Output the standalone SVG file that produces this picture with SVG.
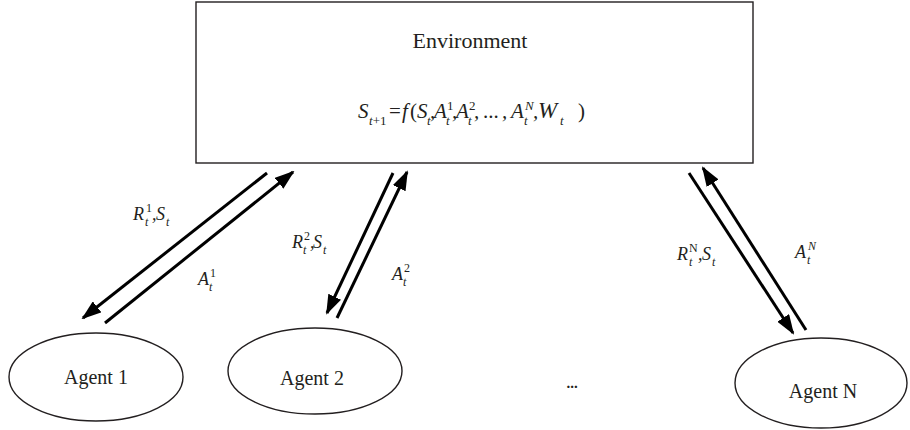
<svg xmlns="http://www.w3.org/2000/svg" width="910" height="430" viewBox="0 0 910 430">
<style>
.box{fill:#fff;stroke:#231f20;stroke-width:1.4}
.lbl{font-family:"Liberation Serif","Times New Roman",serif;fill:#231f20}
.node{font-size:20px}
.it{font-style:italic}
.up{font-style:normal}
.m{font-size:21px}
.s{font-size:13px}
.e{font-size:18px}
.es{font-size:12px}
.arr{stroke:#000;stroke-width:3;fill:none;marker-end:url(#ah)}
</style>
<defs>
<marker id="ah" markerUnits="userSpaceOnUse" viewBox="0 0 20 14" markerWidth="20" markerHeight="14" refX="18" refY="7" orient="auto">
<path d="M0,0 L20,7 L0,14 z" fill="#000"/>
</marker>
</defs>
<rect width="910" height="430" fill="#fff"/>
<g id="environment">
<rect class="box" x="196" y="2" width="557" height="161"/>
<text class="lbl" x="470" y="48" text-anchor="middle" style="font-size:22px">Environment</text>
<g class="lbl it">
<text class="m" x="358" y="118">S</text>
<text class="s" x="369" y="125">t<tspan class="up">+1</tspan></text>
<text class="m up" x="389" y="118">=</text>
<text class="m" x="402" y="118">f</text>
<text class="m up" x="410" y="118">(</text>
<text class="m" x="417" y="118">S</text>
<text class="s" x="427" y="125">t</text>
<text class="m" x="430" y="118">,</text>
<text class="m" x="434" y="118">A</text>
<text class="s up" x="447" y="110">1</text>
<text class="s" x="446" y="125">t</text>
<text class="m" x="452" y="118">,</text>
<text class="m" x="456" y="118">A</text>
<text class="s up" x="469" y="110">2</text>
<text class="s" x="468" y="125">t</text>
<text class="m" x="474" y="118">,</text>
<text class="m up" x="483" y="118">...</text>
<text class="m" x="502" y="118">,</text>
<text class="m" x="511" y="118">A</text>
<text class="s" x="525" y="110">N</text>
<text class="s" x="524" y="125">t</text>
<text class="m" x="533" y="118">,</text>
<text class="m" x="538" y="118" style="font-size:23px">W</text>
<text class="s" x="560" y="125">t</text>
<text class="m up" x="578" y="118">)</text>
</g>
</g>
<g id="agent1">
<ellipse class="box" cx="96" cy="377" rx="87" ry="44"/>
<text class="lbl node" x="96" y="384" text-anchor="middle">Agent 1</text>
</g>
<g id="agent2">
<ellipse class="box" cx="315" cy="371" rx="87" ry="43"/>
<text class="lbl node" x="312" y="385" text-anchor="middle">Agent 2</text>
</g>
<g id="agentN">
<ellipse class="box" cx="821" cy="383" rx="86" ry="45"/>
<text class="lbl node" x="823" y="398" text-anchor="middle">Agent N</text>
</g>
<g id="ellipsis">
<text class="lbl" x="572" y="388" text-anchor="middle" style="font-size:15px;font-weight:bold">...</text>
</g>
<g id="connectors">
<line class="arr" x1="267" y1="173" x2="83" y2="318"/>
<line class="arr" x1="105" y1="323" x2="293" y2="172"/>
<line class="arr" x1="393" y1="173" x2="327" y2="313"/>
<line class="arr" x1="337" y1="318" x2="407" y2="172"/>
<line class="arr" x1="689" y1="173" x2="793" y2="333"/>
<line class="arr" x1="806" y1="330" x2="703" y2="168"/>
</g>
<g id="labels" class="lbl it">
<text class="e" x="133" y="220">R</text>
<text class="es up" x="146" y="212">1</text>
<text class="es" x="145" y="226">t</text>
<text class="e" x="152" y="220">,</text>
<text class="e" x="156" y="220">S</text>
<text class="es" x="166" y="226">t</text>
<text class="e" x="198" y="285">A</text>
<text class="es up" x="210" y="277">1</text>
<text class="es" x="209" y="291">t</text>
<text class="e" x="292" y="248">R</text>
<text class="es up" x="304" y="240">2</text>
<text class="es" x="303" y="254">t</text>
<text class="e" x="310" y="248">,</text>
<text class="e" x="313" y="248">S</text>
<text class="es" x="323" y="254">t</text>
<text class="e" x="392" y="280">A</text>
<text class="es up" x="404" y="272">2</text>
<text class="es" x="403" y="286">t</text>
<text class="e" x="677" y="260">R</text>
<text class="es up" x="689" y="252">N</text>
<text class="es" x="689" y="266">t</text>
<text class="e" x="698" y="260">,</text>
<text class="e" x="702" y="260">S</text>
<text class="es" x="712" y="266">t</text>
<text class="e" x="795" y="258">A</text>
<text class="es" x="808" y="250">N</text>
<text class="es" x="807" y="264">t</text>
</g>
</svg>
